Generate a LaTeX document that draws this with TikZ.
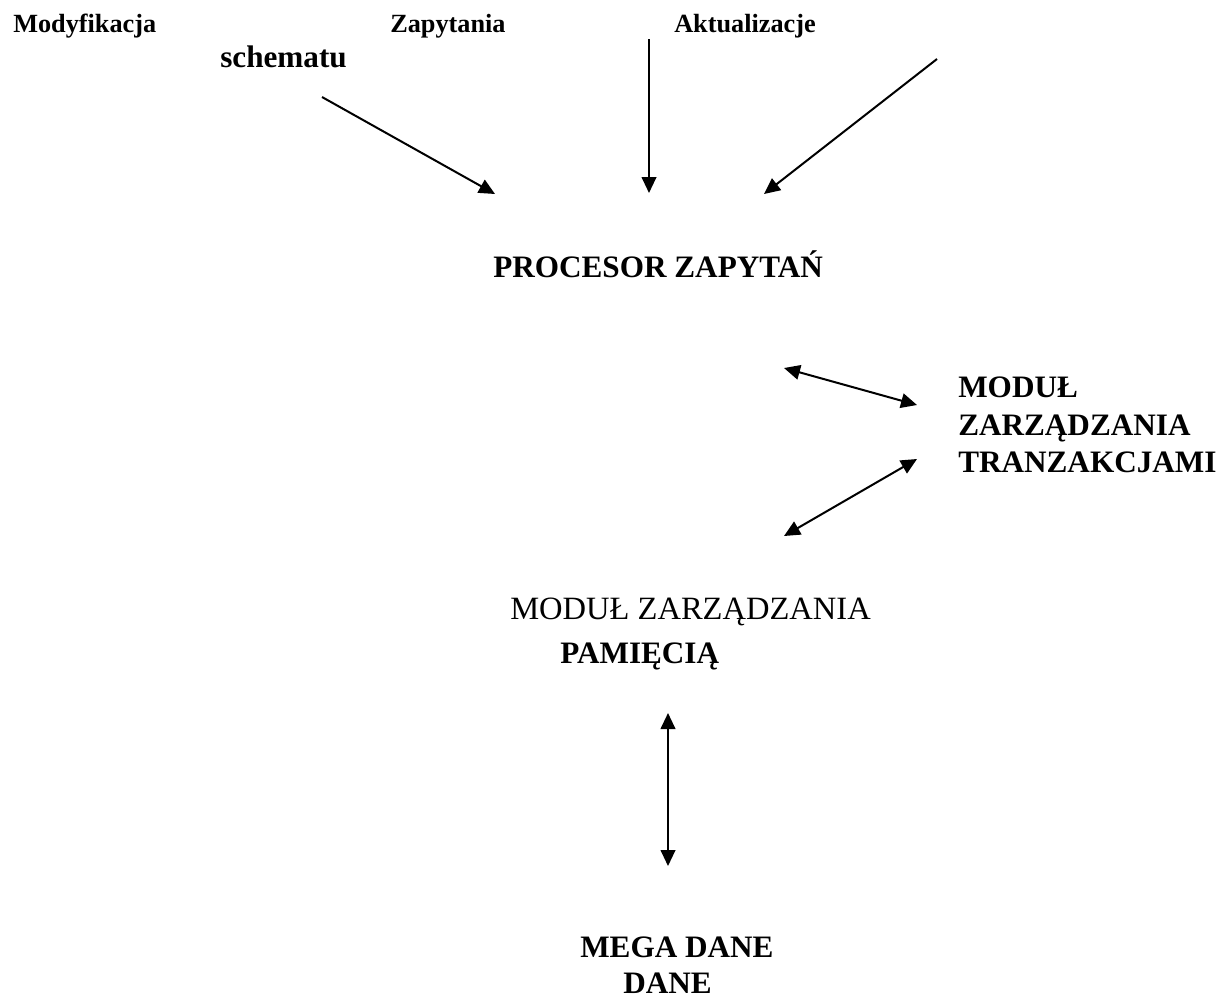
\documentclass[tikz,border=0pt]{standalone}
\usepackage{fontspec}
\setmainfont{Liberation Serif}
\usetikzlibrary{arrows.meta}
\tikzset{
  lbl/.style={inner sep=0pt, anchor=base west},
  small/.style={lbl, font=\fontsize{19.7}{24}\selectfont\bfseries},
  big/.style={lbl, font=\fontsize{23.4}{28}\selectfont\bfseries},
  reg/.style={lbl, font=\fontsize{24.4}{29}\selectfont},
  tip/.tip={Triangle[length=12pt,width=11pt]},
  arr/.style={line width=1.5pt, -tip},
  darr/.style={line width=1.5pt, tip-tip}
}
\begin{document}
\begin{tikzpicture}[x=0.75pt,y=-0.75pt]
\useasboundingbox (0,0) rectangle (1230,997);
% labels
\node[small] (mod) at (13,32) {Modyfikacja};
\node[big] (sch) at (220,67) {schematu};
\node[small] (zap) at (390,32) {Zapytania};
\node[small] (akt) at (674,32) {Aktualizacje};
\node[big] (proc) at (493,277) {PROCESOR ZAPYTAŃ};
\node[big] (mt1) at (958,397) {MODUŁ};
\node[big] (mt2) at (958,435) {ZARZĄDZANIA};
\node[big] (mt3) at (958,472) {TRANZAKCJAMI};
\node[reg] (mp1) at (510,619) {MODUŁ ZARZĄDZANIA};
\node[big] (mp2) at (560,663) {PAMIĘCIĄ};
\node[big] (md1) at (580,957) {MEGA DANE};
\node[big] (md2) at (623,993) {DANE};
% connector end points
\coordinate (a1s) at (322,97);  \coordinate (a1e) at (495,194);
\coordinate (a2s) at (649,39);  \coordinate (a2e) at (649,193);
\coordinate (a3s) at (937,59);  \coordinate (a3e) at (764,194);
\coordinate (a4s) at (784,368); \coordinate (a4e) at (917,405);
\coordinate (a5s) at (917,459); \coordinate (a5e) at (784,536);
\coordinate (a6s) at (668,713); \coordinate (a6e) at (668,866);
% connectors
\draw[arr] (a1s) -- (a1e);
\draw[arr] (a2s) -- (a2e);
\draw[arr] (a3s) -- (a3e);
\draw[darr] (a4s) -- (a4e);
\draw[darr] (a5s) -- (a5e);
\draw[darr] (a6s) -- (a6e);
\end{tikzpicture}
\end{document}
